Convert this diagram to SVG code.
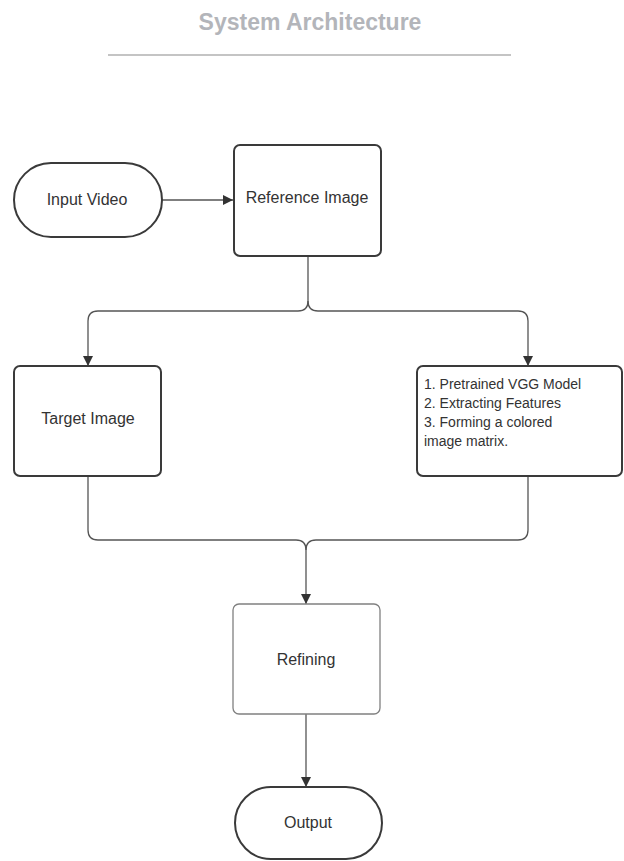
<svg xmlns="http://www.w3.org/2000/svg" width="624" height="861" viewBox="0 0 624 861">
<style>
.node{fill:#fff;stroke:#3a3a3a;stroke-width:2}
.light{fill:#fff;stroke:#808080;stroke-width:1.3}
.lbl{font-family:"Liberation Sans",Arial,sans-serif;font-size:16px;fill:#333}
.lst{font-family:"Liberation Sans",Arial,sans-serif;font-size:14px;fill:#333}
.conn{fill:none;stroke:#555;stroke-width:1.3}
.title{font-family:"Liberation Sans",Arial,sans-serif;font-size:23px;font-weight:bold;fill:#b3b5ba}
</style>
<defs>
<marker id="ah" viewBox="0 0 10 10" refX="10" refY="5" markerWidth="11" markerHeight="10" markerUnits="userSpaceOnUse" orient="auto">
<path d="M0,0 L10,5 L0,10 z" fill="#333"/>
</marker>
</defs>
<rect width="624" height="861" fill="#fff"/>
<g id="title">
<text class="title" x="310" y="30" text-anchor="middle">System Architecture</text>
<line x1="108" y1="55" x2="511" y2="55" stroke="#b0b0b0" stroke-width="1.5"/>
</g>
<g id="connectors">
<line class="conn" x1="162" y1="200" x2="233" y2="200" marker-end="url(#ah)"/>
<path class="conn" d="M308,256 V301 Q308,311 298,311 H98 Q88,311 88,321 V366" marker-end="url(#ah)"/>
<path class="conn" d="M308,301 Q308,311 318,311 H518 Q528,311 528,321 V366" marker-end="url(#ah)"/>
<path class="conn" d="M88,476 V530 Q88,540 98,540 H296 Q306,540 306,550 V604" marker-end="url(#ah)"/>
<path class="conn" d="M528,476 V530 Q528,540 518,540 H316 Q306,540 306,550"/>
<line class="conn" x1="306" y1="714" x2="306" y2="787" marker-end="url(#ah)"/>
</g>
<g id="input-video">
<rect class="node" x="14" y="163" width="148" height="74" rx="37"/>
<text class="lbl" x="87" y="205" text-anchor="middle">Input Video</text>
</g>
<g id="reference-image">
<rect class="node" x="234" y="145" width="147" height="111" rx="6"/>
<text class="lbl" x="307" y="203" text-anchor="middle">Reference Image</text>
</g>
<g id="target-image">
<rect class="node" x="14" y="366" width="147" height="110" rx="6"/>
<text class="lbl" x="88" y="424" text-anchor="middle">Target Image</text>
</g>
<g id="vgg">
<rect class="node" x="417" y="366" width="205" height="110" rx="6"/>
<text class="lst" x="424" y="389">1. Pretrained VGG Model</text>
<text class="lst" x="424" y="408">2. Extracting Features</text>
<text class="lst" x="424" y="427">3. Forming a colored</text>
<text class="lst" x="424" y="446">image matrix.</text>
</g>
<g id="refining">
<rect class="light" x="233" y="604" width="147" height="110" rx="6"/>
<text class="lbl" x="306" y="665" text-anchor="middle">Refining</text>
</g>
<g id="output">
<rect class="node" x="235" y="787" width="147" height="72" rx="36"/>
<text class="lbl" x="308" y="828" text-anchor="middle">Output</text>
</g>
</svg>
